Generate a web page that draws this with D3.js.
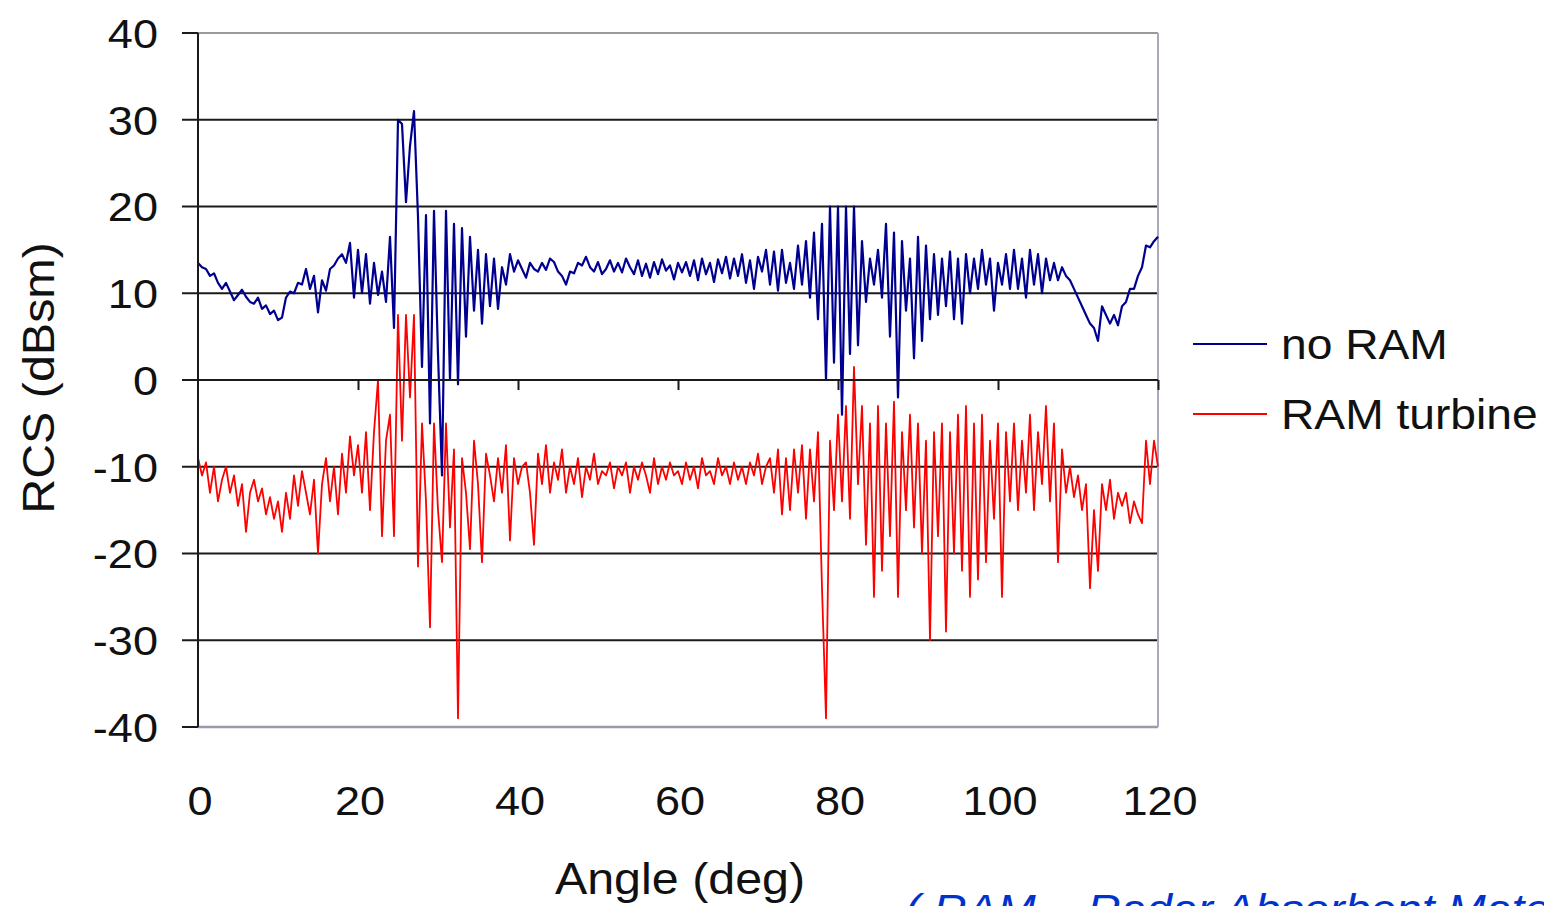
<!DOCTYPE html>
<html><head><meta charset="utf-8">
<script src="https://cdn.jsdelivr.net/npm/d3@7"></script>
<style>body{margin:0;background:#fff;overflow:hidden}svg{display:block}text{font-family:"Liberation Sans",Arial,sans-serif}</style>
</head><body><svg id="c" width="1544" height="906"></svg>
<script>
// angles 0..120 step 0.5
const angleStep = 0.5;
const noRAM = [
13.5,13,12.8,12,12.3,11.2,10.5,11.2,10.2,9.2,
9.8,10.4,9.6,9,8.8,9.5,8.2,8.6,7.6,8,
6.9,7.2,9.5,10.2,10,11.2,11,12.8,10.5,12,
7.8,11.5,10.3,12.8,13.2,14,14.5,13.5,15.8,9.5,
15,10,14.5,8.8,13.5,9.8,12.5,9,16.5,6,
30,29.5,20.5,27,31,18.8,1.5,19,-5,19.5,
3,-11,19.5,0,18,-0.5,17.5,5,16.5,8,
15,6.5,14.5,8.5,14,8.2,13,11,14.5,12.5,
13.8,12.8,11.8,13.5,12.8,12.5,13.5,12.7,14,13.6,
12.5,12,11,12.5,12.3,13.5,13.2,14.2,13,12.5,
13.6,12.2,12.8,13.8,12.5,13.5,12.4,14,13,12.2,
13.8,12,13.4,11.8,13.6,12.2,13.9,12.6,13.2,11.6,
13.5,12.4,13.6,12,13.8,11.5,14,12.2,13.5,11.3,
13.9,12.3,14.2,11.7,14,12,14.5,11.2,13.8,10.5,
14.2,12.5,15,11,14.8,10.3,15,11.2,13.5,10.5,
15.5,11,16,9.5,17,7,18,0,20,2,
20,-4,20,3,20,4,16,9,14,11,
15,9.5,18,5,17,-2,16,8,14,2.5,
16.5,4.5,15.5,7,14.5,7.5,14,8.5,14.8,7,
14,6.5,14.5,10,14,10.5,15,11,14,8,
13.5,11,14.5,10.5,15,10.5,14,9.5,15,11,
14.5,10,14,11.5,13.5,11.5,13,12,11.5,10.5,
9.5,8.5,7.5,6.5,6,4.5,8.5,7.5,6.5,7.5,
6.3,8.5,9,10.5,10.5,12,13,15.5,15.3,16,
16.5];
const ramTurbine = [
-9,-11,-9.5,-13,-10,-14,-11.5,-10,-13,-11,
-14.5,-12,-17.5,-13,-11.5,-14,-12.5,-15.5,-13.5,-16,
-14,-17.5,-13,-16,-11,-14.5,-10.5,-13,-15.5,-11.5,
-20,-12,-9,-14,-10,-15.5,-8.5,-13,-6.5,-11,
-7.5,-13,-6,-15,-6,0,-18,-7,-4,-18,
7.5,-7,7.5,-2,7.5,-21.5,-5,-14,-28.5,-5,
-15,-21,-5,-17,-8,-39,-9,-13,-19.5,-7,
-12,-21,-8.5,-11,-14,-9,-13,-7.5,-18.5,-9,
-12,-10,-9.5,-13,-19,-8.5,-12,-7.5,-13,-9.5,
-11.5,-8,-13,-10,-12,-9,-13.5,-10,-11.5,-8.5,
-12,-10.5,-11,-9.5,-12.5,-10,-11,-9.5,-13,-10,
-11.5,-9.5,-11,-13,-9,-12,-10,-11.5,-9.5,-11,
-10.5,-12,-9.5,-11.5,-10,-12.5,-9,-11,-10.5,-12,
-9,-11,-10,-12,-9.5,-11.5,-10,-12,-9.5,-11,
-8.5,-12,-10,-9,-13,-8,-15.5,-9,-15,-8,
-13,-7.5,-16,-8,-14,-6,-24,-39,-7,-15,
-4,-14,-3,-16,1.5,-12,-3,-19,-5,-25,
-3,-22,-5,-18,-2.5,-25,-6,-15,-4,-17,
-5,-20,-7,-30,-6,-18,-5,-29,-6,-20,
-4,-22,-3,-25,-5,-23,-4,-21,-7,-16,
-5,-25,-6,-14,-5,-15,-7,-13,-4,-15,
-6,-12,-3,-14,-5,-21,-8,-13,-10,-13.5,
-11,-15,-12,-24,-15,-22,-12,-15,-11.5,-16,
-13,-14.5,-13,-16.5,-14,-15.5,-16.5,-7,-12,-7,
-10];
const xTicks = [0,20,40,60,80,100,120];
const yTicks = [40,30,20,10,0,-10,-20,-30,-40];
const seriesNames = ["no RAM","RAM turbine"];
const seriesColors = ["#000090","#ff0000"];
const footnote = "( RAM – Radar Absorbent Material )";

const svg = d3.select("#c");
const L=198, R=1158, T=33, B=727;
const SX = 1.1;
const x = d3.scaleLinear().domain([0,120]).range([L,R]);
const y = d3.scaleLinear().domain([-40,40]).range([B,T]);

// gridlines
svg.append("g").selectAll("line").data(yTicks.filter(v=>v!==40 && v!==-40 && v!==0)).join("line")
  .attr("x1",182).attr("x2",R).attr("y1",d=>y(d)).attr("y2",d=>y(d))
  .attr("stroke","#1a1a1a").attr("stroke-width",2);
// frame
svg.append("line").attr("x1",L).attr("x2",R).attr("y1",T).attr("y2",T).attr("stroke","#9a9a9a").attr("stroke-width",2);
svg.append("line").attr("x1",L).attr("x2",R).attr("y1",B).attr("y2",B).attr("stroke","#9a9aaa").attr("stroke-width",2.5);
svg.append("line").attr("x1",R).attr("x2",R).attr("y1",T).attr("y2",B).attr("stroke","#a8a8c0").attr("stroke-width",2);
[40,-40].forEach(v=>svg.append("line").attr("x1",182).attr("x2",L).attr("y1",y(v)).attr("y2",y(v)).attr("stroke","#1a1a1a").attr("stroke-width",2));

const line = d3.line().x((d,i)=>x(i*angleStep)).y(d=>y(d));
svg.append("path").datum(noRAM).attr("d",line).attr("fill","none").attr("stroke",seriesColors[0]).attr("stroke-width",2.2).attr("stroke-linejoin","round");
svg.append("path").datum(ramTurbine).attr("d",line).attr("fill","none").attr("stroke",seriesColors[1]).attr("stroke-width",1.8).attr("stroke-linejoin","round");

// y axis line
svg.append("line").attr("x1",L).attr("x2",L).attr("y1",T).attr("y2",B).attr("stroke","#1a1a1a").attr("stroke-width",2);
// x axis at 0 with ticks
const xAxis = d3.axisBottom(x).tickValues(xTicks).tickSize(10).tickFormat("");
const gx = svg.append("g").attr("transform",`translate(0,${y(0)})`).call(xAxis);
gx.select(".domain").attr("stroke","#1a1a1a").attr("stroke-width",2).attr("d",`M182,0H${R}`);
gx.selectAll(".tick line").attr("stroke","#1a1a1a").attr("stroke-width",2).filter(d=>d===0).remove();

// y tick labels
svg.append("g").selectAll("text").data(yTicks).join("text")
  .attr("transform",d=>`translate(158,${y(d)}) scale(${SX},1)`).attr("dy","0.36em").attr("text-anchor","end")
  .attr("font-size",41).attr("fill","#111").text(d=>d);
// x tick labels
svg.append("g").selectAll("text").data(xTicks).join("text")
  .attr("transform",d=>`translate(${x(d)+2},815) scale(${SX},1)`).attr("text-anchor","middle")
  .attr("font-size",41).attr("fill","#111").text(d=>d);

// titles
svg.append("text").attr("transform",`translate(54,378) rotate(-90) scale(${SX},1)`).attr("text-anchor","middle")
  .attr("font-size",44).attr("fill","#111").text("RCS (dBsm)");
svg.append("text").attr("transform",`translate(680,894) scale(${SX},1)`).attr("text-anchor","middle")
  .attr("font-size",44).attr("fill","#111").text("Angle (deg)");

// legend
seriesNames.forEach((n,i)=>{
  const ly = 344 + i*70;
  svg.append("line").attr("x1",1193).attr("x2",1267).attr("y1",ly).attr("y2",ly).attr("stroke",seriesColors[i]).attr("stroke-width",2);
  svg.append("text").attr("transform",`translate(1281,${ly}) scale(${SX},1)`).attr("dy","0.36em").attr("font-size",42).attr("fill","#111").text(n);
});

svg.append("text").attr("transform",`translate(905,924) scale(${SX},1)`).attr("font-size",42).attr("font-style","italic").attr("fill","#0033cc").text(footnote);
</script></body></html>
